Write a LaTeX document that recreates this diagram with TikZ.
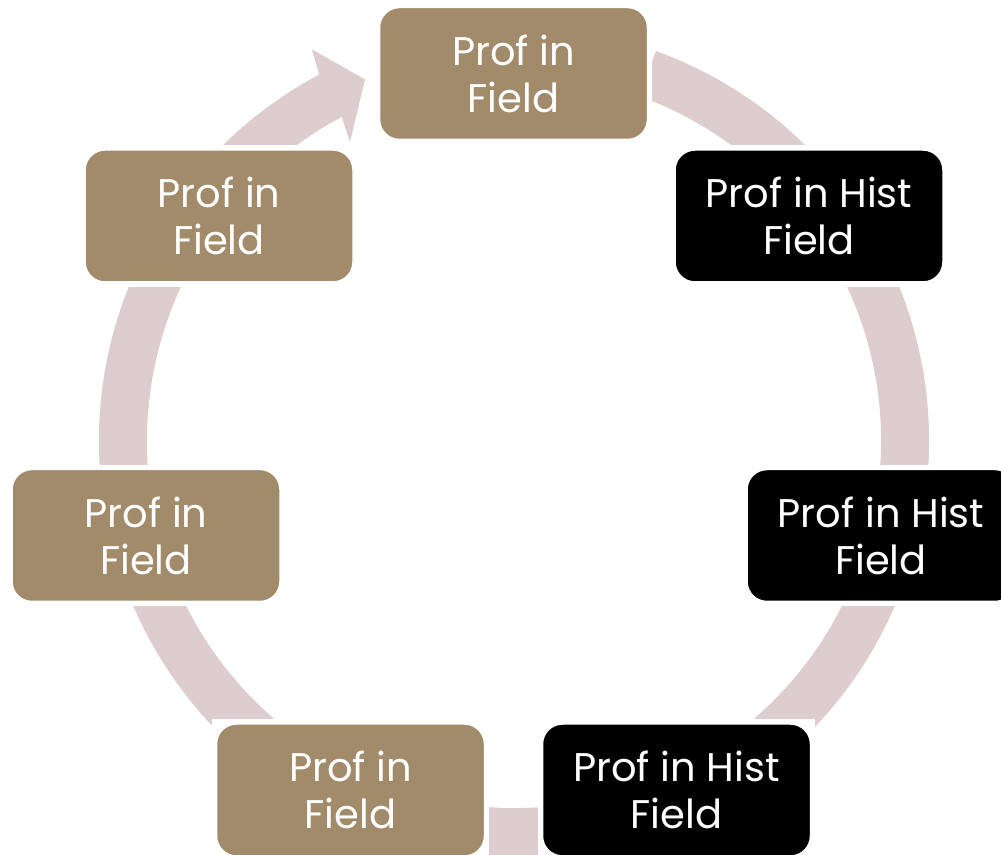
\documentclass[tikz,border=0pt]{standalone}
\usepackage{fontspec}
\setmainfont{Poppins}
\usetikzlibrary{backgrounds}
\definecolor{boxtan}{RGB}{161,139,106}
\definecolor{ringpink}{RGB}{222,205,207}

\begin{document}
\begin{tikzpicture}[x=1pt,y=1pt,every node/.style={draw=white,line width=1.5pt,rounded corners=20pt,minimum width=268pt,minimum height=132pt,inner sep=0pt,align=center,text=white,font=\fontsize{40}{47}\selectfont},
  field/.style={fill=boxtan},hist/.style={fill=black}]
  \useasboundingbox (0,0) rectangle (1001,854);
  \path (513.5,780.5) node[field] (p0) {Prof in\\Field} (809,638) node[hist] (p1) {Prof in Hist\\Field}
  (881,318.5) node[hist] (p2) {Prof in Hist\\Field} (676.5,64) node[hist] (p3) {Prof in Hist\\Field}
  (350.5,64) node[field] (p4) {Prof in\\Field} (146,318.5) node[field] (p5) {Prof in\\Field}
  (219,638) node[field] (p6) {Prof in\\Field};
  \begin{scope}[on background layer]
    \fill[ringpink,shift={(514,413)}] (70:415) arc[start angle=70,end angle=-242,radius=415]
      -- (-242.7:441) -- (-247.6:391) -- (-241.25:341) -- (-242:367)
      arc[start angle=-242,end angle=70,radius=367] -- cycle;
    \foreach \i in {0,...,6}
      \fill[white] ([shift={(-4,-4)}]p\i.south west) rectangle ([shift={(4,4)}]p\i.north east);
  \end{scope}
\end{tikzpicture}
\end{document}
